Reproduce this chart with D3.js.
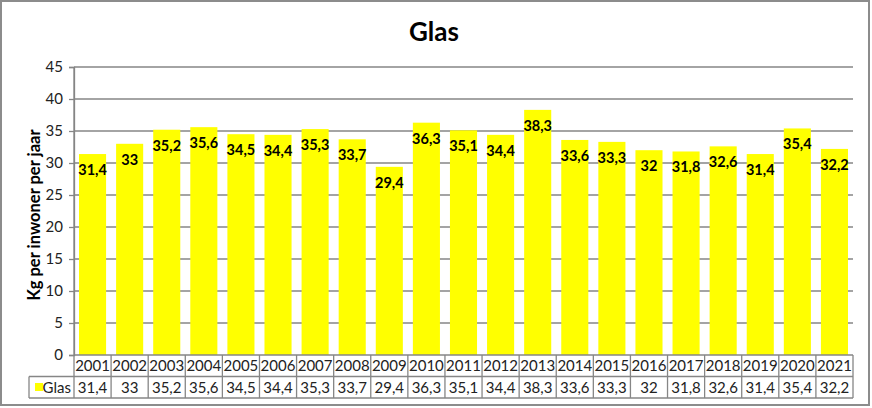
<!DOCTYPE html>
<html><head><meta charset="utf-8">
<script src="https://cdn.jsdelivr.net/npm/d3@7"></script>
<style>body{margin:0;background:#fff}svg{display:block}text{font-family:Lato,"Liberation Sans",sans-serif}</style>
</head><body><svg id="c" width="872" height="408"></svg>
<script>
const years = ["2001","2002","2003","2004","2005","2006","2007","2008","2009","2010","2011","2012","2013","2014","2015","2016","2017","2018","2019","2020","2021"];
const glas = [31.4,33,35.2,35.6,34.5,34.4,35.3,33.7,29.4,36.3,35.1,34.4,38.3,33.6,33.3,32,31.8,32.6,31.4,35.4,32.2];
const yTicks = [0,5,10,15,20,25,30,35,40,45];
const seriesName = "Glas";
const title = "Glas";
const yLabel = "Kg per inwoner per jaar";

const fmt = v => String(v).replace(".", ",");
const svg = d3.select("#c");
const L = 74, R = 853, T = 67, B = 355;
const grid = "#868686";
const x = d3.scaleBand().domain(years).range([L, R]).paddingInner(0.27).paddingOuter(0.135);
const xc = d3.scaleBand().domain(years).range([L, R]);
const y = d3.scaleLinear().domain([0, 45]).range([B, T]);

svg.append("rect").attr("x",1).attr("y",1).attr("width",868).attr("height",404)
  .attr("fill","#fff").attr("stroke","#8c8c8c").attr("stroke-width",2);

svg.append("text").attr("x",434).attr("y",41).attr("text-anchor","middle")
  .attr("font-size",26).attr("font-weight","bold").text(title);

// gridlines
svg.append("g").selectAll("line").data(yTicks.filter(d=>d>0)).join("line")
  .attr("x1",L).attr("x2",R).attr("y1",d=>y(d)).attr("y2",d=>y(d))
  .attr("stroke",grid).attr("stroke-width",1.3);

// y axis
const ya = svg.append("g").attr("transform",`translate(${L},0)`)
  .call(d3.axisLeft(y).tickValues(yTicks).tickSize(5).tickPadding(6));
ya.select(".domain").attr("stroke",grid).attr("stroke-width",1.3);
ya.selectAll(".tick line").attr("stroke",grid).attr("stroke-width",1.3);
ya.selectAll(".tick text").attr("font-size",15).attr("fill","#222").attr("font-family","Lato,'Liberation Sans',sans-serif");

svg.append("text").attr("transform",`translate(40,215) rotate(-90)`).attr("text-anchor","middle")
  .attr("font-size",16.5).attr("font-weight","bold").text(yLabel);

// bars
svg.append("g").selectAll("rect").data(glas).join("rect")
  .attr("x",(d,i)=>x(years[i])).attr("width",x.bandwidth())
  .attr("y",d=>y(d)).attr("height",d=>y(0)-y(d)).attr("fill","#ffff00");

svg.append("g").selectAll("text").data(glas).join("text")
  .attr("x",(d,i)=>x(years[i])+x.bandwidth()/2).attr("y",d=>y(d)+21)
  .attr("text-anchor","middle").attr("font-size",14.5).attr("font-weight","bold").text(fmt);

// table
const r1 = B, r2 = 376.5, r3 = 398, legL = 29;
const tg = svg.append("g").attr("stroke",grid).attr("stroke-width",1.3);
tg.append("line").attr("x1",L).attr("x2",R).attr("y1",r1).attr("y2",r1);
tg.append("line").attr("x1",legL).attr("x2",R).attr("y1",r2).attr("y2",r2);
tg.append("line").attr("x1",legL).attr("x2",R).attr("y1",r3).attr("y2",r3);
tg.append("line").attr("x1",legL).attr("x2",legL).attr("y1",r2).attr("y2",r3);
tg.selectAll(".v").data(years.concat(["end"])).join("line")
  .attr("x1",(d,i)=> i<years.length ? xc(d) : R).attr("x2",(d,i)=> i<years.length ? xc(d) : R)
  .attr("y1",(d,i)=> i===0 ? T : r1).attr("y2",r3);

svg.append("g").selectAll("text").data(years).join("text")
  .attr("x",d=>xc(d)+xc.bandwidth()/2).attr("y",(r1+r2)/2+5.5).attr("text-anchor","middle")
  .attr("font-size",15).attr("fill","#222").text(d=>d);
svg.append("g").selectAll("text").data(glas).join("text")
  .attr("x",(d,i)=>xc(years[i])+xc.bandwidth()/2).attr("y",(r2+r3)/2+5.5).attr("text-anchor","middle")
  .attr("font-size",15).attr("fill","#222").text(fmt);

svg.append("rect").attr("x",35).attr("y",383).attr("width",8).attr("height",8).attr("fill","#ffff00");
svg.append("text").attr("x",71).attr("y",(r2+r3)/2+5.5).attr("text-anchor","end")
  .attr("font-size",15).attr("fill","#222").text(seriesName);
</script></body></html>
